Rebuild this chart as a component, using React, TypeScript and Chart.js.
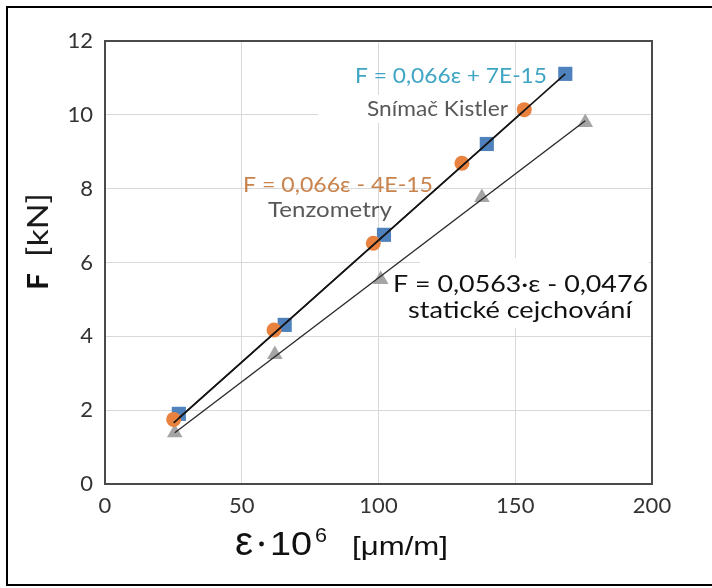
import { useEffect, useRef } from "react";
import { Chart, registerables } from "chart.js";

Chart.register(...registerables);

// Measured strain (µm/m) and force (kN) for the three calibration methods
const kistlerStrain = [27, 65.7, 102, 139.6, 168.3];
const kistlerForce = [1.9, 4.31, 6.75, 9.21, 11.11];
const tenzoStrain = [25.1, 61.8, 98.1, 130.5, 153.3];
const tenzoForce = [1.75, 4.17, 6.52, 8.69, 10.14];
const staticStrain = [25.5, 62.1, 100.8, 137.8, 175.6];
const staticForce = [1.39, 3.51, 5.54, 7.76, 9.79];

// Linear regression coefficients (F = slope·ε + intercept)
const kistlerFit = [0.066, 7e-15];
const tenzoFit = [0.066, -4e-15];
const staticFit = [0.0563, -0.0476];

// Axis ranges and tick steps
const xRange = [0, 200, 50];
const yRange = [0, 12, 2];

// Annotation texts
const kistlerEq = "F = 0,066ε + 7E-15";
const kistlerName = "Snímač Kistler";
const tenzoEq = "F = 0,066ε - 4E-15";
const tenzoName = "Tenzometry";
const staticEq = "F = 0,0563·ε - 0,0476";
const staticName = "statické cejchování";

const points = (xs: number[], ys: number[]) => xs.map((x, i) => ({ x, y: ys[i] }));

const trend = (xs: number[], fit: number[]) => {
  const lo = Math.min(...xs);
  const hi = Math.max(...xs);
  return [
    { x: lo, y: fit[0] * lo + fit[1] },
    { x: hi, y: fit[0] * hi + fit[1] },
  ];
};

function fitText(
  ctx: CanvasRenderingContext2D,
  text: string,
  x: number,
  y: number,
  font: string,
  width: number,
  color: string
) {
  ctx.save();
  ctx.font = font;
  ctx.fillStyle = color;
  ctx.textAlign = "left";
  ctx.textBaseline = "alphabetic";
  const w = ctx.measureText(text).width || 1;
  ctx.translate(x, y);
  ctx.scale(width / w, 1);
  ctx.fillText(text, 0, 0);
  ctx.restore();
}

const LABEL_FONT = '22px Lato';

const decorations = {
  id: "decorations",
  beforeDatasetsDraw(chart: any) {
    const ctx: CanvasRenderingContext2D = chart.ctx;
    const a = chart.chartArea;
    ctx.save();
    // label backgrounds hide the gridlines behind them
    ctx.fillStyle = "#ffffff";
    ctx.fillRect(318, 95, 197, 28);
    ctx.fillRect(420, 258, 229, 70);
    // plot frame
    ctx.strokeStyle = "#4a4a4a";
    ctx.lineWidth = 2;
    ctx.strokeRect(a.left, a.top, a.right - a.left, a.bottom - a.top);
    ctx.restore();
  },
  afterDatasetsDraw(chart: any) {
    const ctx: CanvasRenderingContext2D = chart.ctx;
    fitText(ctx, kistlerEq, 355, 83, LABEL_FONT, 192, "#3fa5c4");
    fitText(ctx, kistlerName, 367, 116, LABEL_FONT, 141, "#595959");
    fitText(ctx, tenzoEq, 243, 192, LABEL_FONT, 190, "#c9834d");
    fitText(ctx, tenzoName, 268, 217, LABEL_FONT, 124, "#595959");
    fitText(ctx, staticEq, 393, 292, '23px Lato', 255, "#111111");
    fitText(ctx, staticName, 408, 318, '23px Lato', 224, "#111111");
  },
  afterDraw(chart: any) {
    const ctx: CanvasRenderingContext2D = chart.ctx;
    ctx.save();
    // outer frame
    ctx.strokeStyle = "#000000";
    ctx.lineWidth = 2;
    ctx.strokeRect(7, 7, 720, 578);
    ctx.restore();

    // x-axis title: ε · 10^6 [µm/m]
    const sans = '"Liberation Sans"';
    fitText(ctx, "ε", 235, 555, `40px ${sans}`, 18, "#111111");
    ctx.save();
    ctx.fillStyle = "#111111";
    ctx.beginPath();
    ctx.arc(261.5, 544, 2.4, 0, Math.PI * 2);
    ctx.fill();
    ctx.restore();
    fitText(ctx, "10", 270, 555, `33px ${sans}`, 42, "#111111");
    fitText(ctx, "6", 315, 542, `20px ${sans}`, 12, "#111111");
    fitText(ctx, "[μm/m]", 352, 555, `26px ${sans}`, 96, "#111111");

    // y-axis title: F [kN]
    ctx.save();
    ctx.translate(48, 290);
    ctx.rotate(-Math.PI / 2);
    fitText(ctx, "F", 0, 0, 'bold 28px Lato', 17, "#111111");
    fitText(ctx, "[kN]", 33, 0, '28px Lato', 64, "#1a1a1a");
    ctx.restore();
  },
};

export default function App() {
  const canvasRef = useRef<HTMLCanvasElement | null>(null);

  useEffect(() => {
    const canvas = canvasRef.current;
    if (!canvas) return;
    const chart = new Chart(canvas, {
      type: "scatter",
      data: {
        datasets: [
          {
            label: "trend Tenzometry",
            data: trend(tenzoStrain, tenzoFit),
            showLine: true,
            borderColor: "#151515",
            borderWidth: 1.6,
            pointRadius: 0,
          },
          {
            label: "trend Kistler",
            data: trend(kistlerStrain, kistlerFit),
            showLine: true,
            borderColor: "#151515",
            borderWidth: 1.6,
            pointRadius: 0,
          },
          {
            label: "trend statické",
            data: trend(staticStrain, staticFit),
            showLine: true,
            borderColor: "#2a2a2a",
            borderWidth: 1.4,
            pointRadius: 0,
          },
          {
            label: tenzoName,
            data: points(tenzoStrain, tenzoForce),
            pointStyle: "circle",
            pointRadius: 7.5,
            backgroundColor: "#e8823e",
            borderWidth: 0,
          },
          {
            label: kistlerName,
            data: points(kistlerStrain, kistlerForce),
            pointStyle: "rect",
            pointRadius: 10,
            backgroundColor: "#4f81bd",
            borderWidth: 0,
          },
          {
            label: staticName,
            data: points(staticStrain, staticForce),
            pointStyle: "triangle",
            pointRadius: 9,
            backgroundColor: "#a5a5a5",
            borderWidth: 0,
          },
        ],
      },
      options: {
        responsive: false,
        animation: false,
        devicePixelRatio: 1,
        events: [],
        layout: { padding: { left: 0, right: 60, top: 41, bottom: 0 } },
        plugins: {
          legend: { display: false },
          tooltip: { enabled: false },
        },
        scales: {
          x: {
            type: "linear",
            min: xRange[0],
            max: xRange[1],
            ticks: {
              stepSize: xRange[2],
              font: { family: "Lato", size: 22 },
              color: "#333333",
              padding: 9,
            },
            grid: { color: "#d9d9d9", lineWidth: 1, drawTicks: false },
            border: { display: false },
            afterFit: (scale: any) => {
              scale.height = 104;
            },
          },
          y: {
            type: "linear",
            min: yRange[0],
            max: yRange[1],
            ticks: {
              stepSize: yRange[2],
              font: { family: "Lato", size: 22 },
              color: "#333333",
              padding: 12,
            },
            grid: { color: "#d9d9d9", lineWidth: 1, drawTicks: false },
            border: { display: false },
            afterFit: (scale: any) => {
              scale.width = 105;
            },
          },
        },
      },
      plugins: [decorations],
    } as any);
    return () => chart.destroy();
  }, []);

  return (
    <div
      style={{
        position: "absolute",
        left: 0,
        top: 0,
        width: 712,
        height: 588,
        background: "#ffffff",
      }}
    >
      <canvas ref={canvasRef} width={712} height={588} />
    </div>
  );
}
